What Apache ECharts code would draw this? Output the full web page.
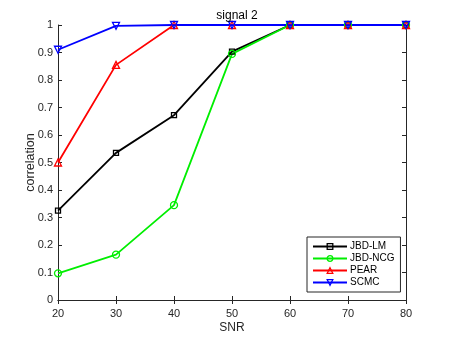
<!DOCTYPE html>
<html>
<head>
<meta charset="utf-8">
<script src="https://cdn.jsdelivr.net/npm/echarts@6/dist/echarts.min.js"></script>
<style>
html, body { margin: 0; padding: 0; background: #fff; }
#chart { width: 449px; height: 337px; }
</style>
</head>
<body>
<div id="chart"></div>
<script>
// SNR values on the x axis
var snr = [20, 30, 40, 50, 60, 70, 80];
// correlation per method
var jbdLM  = [0.325, 0.535, 0.672, 0.903, 1, 1, 1];
var jbdNCG = [0.097, 0.165, 0.345, 0.895, 1, 1, 1];
var pear   = [0.5, 0.855, 1, 1, 1, 1, 1];
var scmc   = [0.91, 0.997, 1, 1, 1, 1, 1];

var names = ['JBD-LM', 'JBD-NCG', 'PEAR', 'SCMC'];
var values = [jbdLM, jbdNCG, pear, scmc];
var colors = ['#000000', '#00ee00', '#ff0000', '#0000ff'];
var symbols = ['rect', 'circle', 'triangle', 'triangle'];
var rotates = [0, 0, 0, 180];
var sizes = [5, 7, 7, 7];

var font = 'Liberation Sans, Arial, sans-serif';
var axisCol = '#262626';

function pairs(arr) {
    var out = [];
    for (var i = 0; i < snr.length; i++) out.push([snr[i], arr[i]]);
    return out;
}

var series = [];
var legendData = [];
for (var k = 0; k < names.length; k++) {
    series.push({
        name: names[k],
        type: 'line',
        data: pairs(values[k]),
        symbol: symbols[k],
        symbolRotate: rotates[k],
        symbolSize: sizes[k],
        showAllSymbol: true,
        itemStyle: { color: 'rgba(255,255,255,0)', borderColor: colors[k], borderWidth: 1.3 },
        lineStyle: { color: colors[k], width: 1.8 },
        emphasis: { disabled: true },
        animation: false
    });
    legendData.push({
        name: names[k],
        itemStyle: { color: 'rgba(255,255,255,0)', borderColor: colors[k], borderWidth: 1.3 }
    });
}

var hiddenAxisLabel = { show: false };

var option = {
    animation: false,
    title: {
        text: 'signal 2',
        left: 232,
        top: 5,
        textAlign: 'center',
        textStyle: { fontFamily: font, fontSize: 12, fontWeight: 'normal', color: '#000' }
    },
    grid: { left: 58, top: 25, right: 43, bottom: 37, containLabel: false, outerBoundsMode: 'none' },
    legend: {
        data: legendData,
        orient: 'vertical',
        left: 307,
        top: 237,
        itemWidth: 34,
        itemHeight: 7,
        itemGap: 1,
        padding: [4, 6, 4, 5],
        borderColor: axisCol,
        borderWidth: 1,
        backgroundColor: '#ffffff',
        textStyle: { fontFamily: font, fontSize: 10, lineHeight: 11, color: '#000', padding: [0, 0, 0, -2] }
    },
    xAxis: [{
        type: 'value',
        min: 20, max: 80, interval: 10,
        name: 'SNR',
        nameLocation: 'middle',
        nameGap: 22,
        nameMoveOverlap: false,
        nameTextStyle: { fontFamily: font, fontSize: 12, color: axisCol },
        axisLine: { lineStyle: { color: axisCol, width: 1 } },
        axisTick: { inside: true, length: 4, lineStyle: { color: axisCol } },
        axisLabel: { fontFamily: font, fontSize: 11, color: axisCol, margin: 8 },
        splitLine: { show: false }
    }, {
        type: 'value',
        position: 'top',
        min: 20, max: 80, interval: 10,
        axisLine: { lineStyle: { color: axisCol, width: 1 } },
        axisTick: { inside: true, length: 4, lineStyle: { color: axisCol } },
        axisLabel: hiddenAxisLabel,
        splitLine: { show: false }
    }],
    yAxis: [{
        type: 'value',
        min: 0, max: 1, interval: 0.1,
        name: 'correlation',
        nameLocation: 'middle',
        nameGap: 21,
        nameMoveOverlap: false,
        nameTextStyle: { fontFamily: font, fontSize: 12.5, color: axisCol },
        axisLine: { show: true, lineStyle: { color: axisCol, width: 1 } },
        axisTick: { show: true, inside: true, length: 4, lineStyle: { color: axisCol } },
        axisLabel: { fontFamily: font, fontSize: 11, color: axisCol, margin: 5 },
        splitLine: { show: false }
    }, {
        type: 'value',
        position: 'right',
        min: 0, max: 1, interval: 0.1,
        axisLine: { show: true, lineStyle: { color: axisCol, width: 1 } },
        axisTick: { show: true, inside: true, length: 4, lineStyle: { color: axisCol } },
        axisLabel: hiddenAxisLabel,
        splitLine: { show: false }
    }],
    series: series
};

var chart = echarts.init(document.getElementById('chart'), null, { renderer: 'canvas' });
chart.setOption(option);
</script>
</body>
</html>
